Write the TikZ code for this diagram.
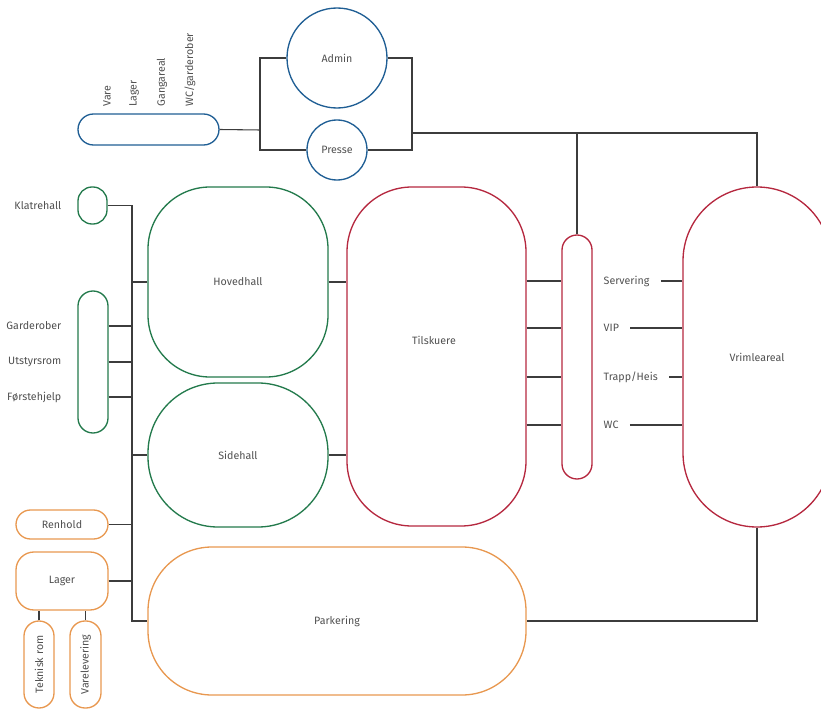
\documentclass[tikz,border=0pt]{standalone}
\usepackage{fontspec}
\setmainfont{Fira Sans}
\definecolor{adminblue}{RGB}{31,94,148}
\definecolor{hallgreen}{RGB}{35,122,76}
\definecolor{publikred}{RGB}{181,40,63}
\definecolor{driftorange}{RGB}{232,152,80}
\definecolor{linkgray}{RGB}{60,60,60}
\definecolor{textgray}{RGB}{80,80,80}

\begin{document}
\begin{tikzpicture}[x=0.75pt,y=0.75pt,yscale=-1,xscale=1,
  room/.style n args={3}{draw, line width=1pt, inner sep=0pt, minimum width=#1*0.75pt, minimum height=#2*0.75pt, rounded corners=#3*0.75pt},
  ring/.style={circle, draw=adminblue, line width=1pt, inner sep=0pt, minimum size=#1*0.75pt},
  lbl/.style={text=textgray, font=\fontsize{8}{9}\selectfont},
  link/.style={draw=linkgray, line width=0.8pt}
]
\useasboundingbox (0,0) rectangle (821,709);

%Shape: Admin group
\node [room={141}{31}{15.5}, draw=adminblue] (hjelp) at (148.5,129.5) {};
\node [lbl, rotate=90, anchor=west, inner sep=1pt] (vare) at (107,108) {Vare};
\node [lbl, rotate=90, anchor=west, inner sep=1pt] (lagerrom) at (134,108) {Lager};
\node [lbl, rotate=90, anchor=west, inner sep=1pt] (gang) at (162,108) {Gangareal};
\node [lbl, rotate=90, anchor=west, inner sep=1pt] (wcgard) at (190,108) {WC/garderober};
\node [ring=100, lbl] (admin) at (337,58) {Admin};
\node [ring=60, lbl] (presse) at (337,150) {Presse};

%Shape: Halls
\node [room={29}{37}{14}, draw=hallgreen] (klatre) at (92.5,205.5) {};
\node [room={30}{142}{15}, draw=hallgreen] (gpill) at (93,362) {};
\node [room={180}{190}{62}, draw=hallgreen, lbl] (hovedhall) at (238,282) {Hovedhall};
\node [room={180}{144}{70}, draw=hallgreen, lbl] (sidehall) at (238,455) {Sidehall};
% Text Node
\node [lbl, anchor=east] (klatretxt) at (66,206) {Klatrehall};
\node [lbl, anchor=east] (garderober) at (66,326) {Garderober};
\node [lbl, anchor=east] (utstyr) at (66,362) {Utstyrsrom};
\node [lbl, anchor=east] (forste) at (66,397) {Førstehjelp};

%Shape: Publikum
\node [room={179}{339}{65}, draw=publikred] (tilskuere) at (436.5,356.5) {};
\node [lbl] (tilskuertxt) at (434,340) {Tilskuere};
\node [room={30}{244}{15}, draw=publikred] (korridor) at (577,357) {};
\node [room={148}{340}{74}, draw=publikred, lbl] (vrimle) at (757,357) {Vrimleareal};
% Text Node
\node [lbl, anchor=west] (servering) at (599,281) {Servering};
\node [lbl, anchor=west] (vip) at (599,328) {VIP};
\node [lbl, anchor=west] (trapp) at (599,377) {Trapp/Heis};
\node [lbl, anchor=west] (wc) at (599,425) {WC};

%Shape: Drift
\node [room={92}{29}{14.5}, draw=driftorange, lbl] (renhold) at (62,524.5) {Renhold};
\node [room={92}{58}{18}, draw=driftorange, lbl] (lager) at (62,581) {Lager};
\node [room={30}{87}{15}, draw=driftorange, lbl] (teknisk) at (39,664.5) {\rotatebox{90}{Teknisk rom}};
\node [room={31}{87}{15}, draw=driftorange, lbl] (varelev) at (85.5,664.5) {\rotatebox{90}{Varelevering}};
\node [room={378}{148}{64}, draw=driftorange, lbl] (parkering) at (337,621) {Parkering};

%Straight Lines
\coordinate (admleft) at (260,130);
\coordinate (admright) at (412,133);
\coordinate (spine) at (132,206);
\draw [link] (hjelp.east) -- (admleft);
\draw [link] (admin.west) -| (admleft) |- (presse.west);
\draw [link] (admin.east) -| (admright) |- (presse.east);
\draw [link] (admright) -| (vrimle.north);
\draw [link] (korridor.north) -- (korridor.north |- admright);

\draw [link] (klatre.east) -| (spine |- parkering.west) -- (parkering.west);
\draw [link] (hovedhall.west) -- (hovedhall.west -| spine);
\draw [link] (sidehall.west) -- (sidehall.west -| spine);
\draw [link] (renhold.east) -- (renhold.east -| spine);
\draw [link] (lager.east) -- (lager.east -| spine);
\foreach \n in {garderober, utstyr, forste}
  \draw [link] (gpill.east |- \n) -- (spine |- \n);
\draw [link] (teknisk.north) -- (teknisk.north |- lager.south);
\draw [link] (varelev.north) -- (varelev.north |- lager.south);

\draw [link] (hovedhall.east) -- (hovedhall.east -| tilskuere.west);
\draw [link] (sidehall.east) -- (sidehall.east -| tilskuere.west);
\foreach \n in {servering, vip, trapp, wc} {
  \draw [link] (tilskuere.east |- \n) -- (korridor.west |- \n);
  \draw [link] ([xshift=5pt]\n.east) -- (\n -| vrimle.west);
}
\draw [link] (vrimle.south) |- (parkering.east);

\end{tikzpicture}
\end{document}
